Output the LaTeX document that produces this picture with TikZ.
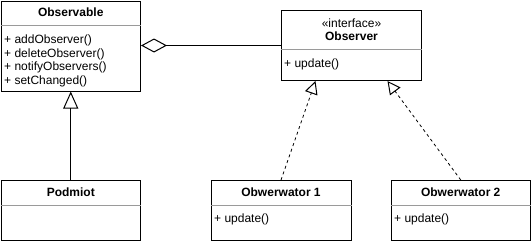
\documentclass[tikz,border=0pt]{standalone}
\usepackage{fontspec}
\setmainfont{Liberation Sans}
\usetikzlibrary{arrows.meta,calc}
\definecolor{sepgray}{HTML}{9A9A9A}
\begin{document}
\begin{tikzpicture}[x=1pt,y=-1pt,
  umlbox/.style={draw=black, line width=1pt, fill=white, rectangle,
    inner sep=0pt, anchor=north west},
  sepline/.style={draw=sepgray, line width=1pt},
  classname/.style={font=\bfseries\fontsize{12}{14}\selectfont, inner sep=0pt, anchor=base},
  stereo/.style={font=\fontsize{12}{14}\selectfont, inner sep=0pt, anchor=base},
  member/.style={font=\fontsize{12}{14}\selectfont, inner sep=0pt, anchor=base west},
  conn/.style={draw=black, line width=1pt},
  aggregation/.style={conn, {Diamond[open, length=26pt, width=14pt, line width=1pt]}-},
  generalization/.style={conn, -{Triangle[open, length=17pt, width=15pt, line width=1pt]}},
  realization/.style={conn, line width=0.8pt, dash pattern=on 3pt off 3pt,
    -{Triangle[open, length=13pt, width=13pt, line width=1pt]}}]

\useasboundingbox (0,0) rectangle (531,241);

% class boxes
\node[umlbox, minimum width=139.5pt, minimum height=90pt] (observable) at (0.5,0.5) {};
\node[umlbox, minimum width=140pt, minimum height=70pt] (observer) at (281,10) {};
\node[umlbox, minimum width=139.5pt, minimum height=59.5pt] (podmiot) at (0.5,180) {};
\node[umlbox, minimum width=140pt, minimum height=59.5pt] (obw1) at (210.5,180) {};
\node[umlbox, minimum width=139.5pt, minimum height=59.5pt] (obw2) at (390.5,180) {};

% compartment separators
\draw[sepline] (observable.west |- 0,25) -- (observable.east |- 0,25);
\draw[sepline] (observer.west |- 0,49) -- (observer.east |- 0,49);
\draw[sepline] (podmiot.west |- 0,205) -- (podmiot.east |- 0,205);
\draw[sepline] (obw1.west |- 0,205) -- (obw1.east |- 0,205);
\draw[sepline] (obw2.west |- 0,205) -- (obw2.east |- 0,205);

% Observable
\node[classname] (observableName) at (observable.north |- 0,16.6) {Observable};
\node[member] (m1) at (4,43.3) {+ addObserver()};
\node[member] (m2) at (4,57) {+ deleteObserver()};
\node[member] (m3) at (4,70.6) {+ notifyObservers()};
\node[member] (m4) at (4,84.3) {+ setChanged()};

% Observer
\node[stereo] (observerStereo) at (observer.north |- 0,27.3) {«interface»};
\node[classname] (observerName) at (observer.north |- 0,40.3) {Observer};
\node[member] (m5) at (284,67.6) {+ update()};

% Podmiot
\node[classname] (podmiotName) at (podmiot.north |- 0,196.4) {Podmiot};

% Obwerwator 1 and 2
\node[classname] (obw1Name) at (obw1.north |- 0,196.6) {Obwerwator 1};
\node[member] (m6) at (214,222.3) {+ update()};
\node[classname] (obw2Name) at (obw2.north |- 0,196.6) {Obwerwator 2};
\node[member] (m7) at (394,222.3) {+ update()};

% relationships
\draw[aggregation] (observable.east |- observer.west) -- (observer.west);
\draw[generalization] (podmiot.north) -- (observable.south);
\draw[realization] (obw1.north) -- ($(observer.south)+(-36,0)$);
\draw[realization] (obw2.north) -- ($(observer.south)+(36,0)$);
\end{tikzpicture}
\end{document}
